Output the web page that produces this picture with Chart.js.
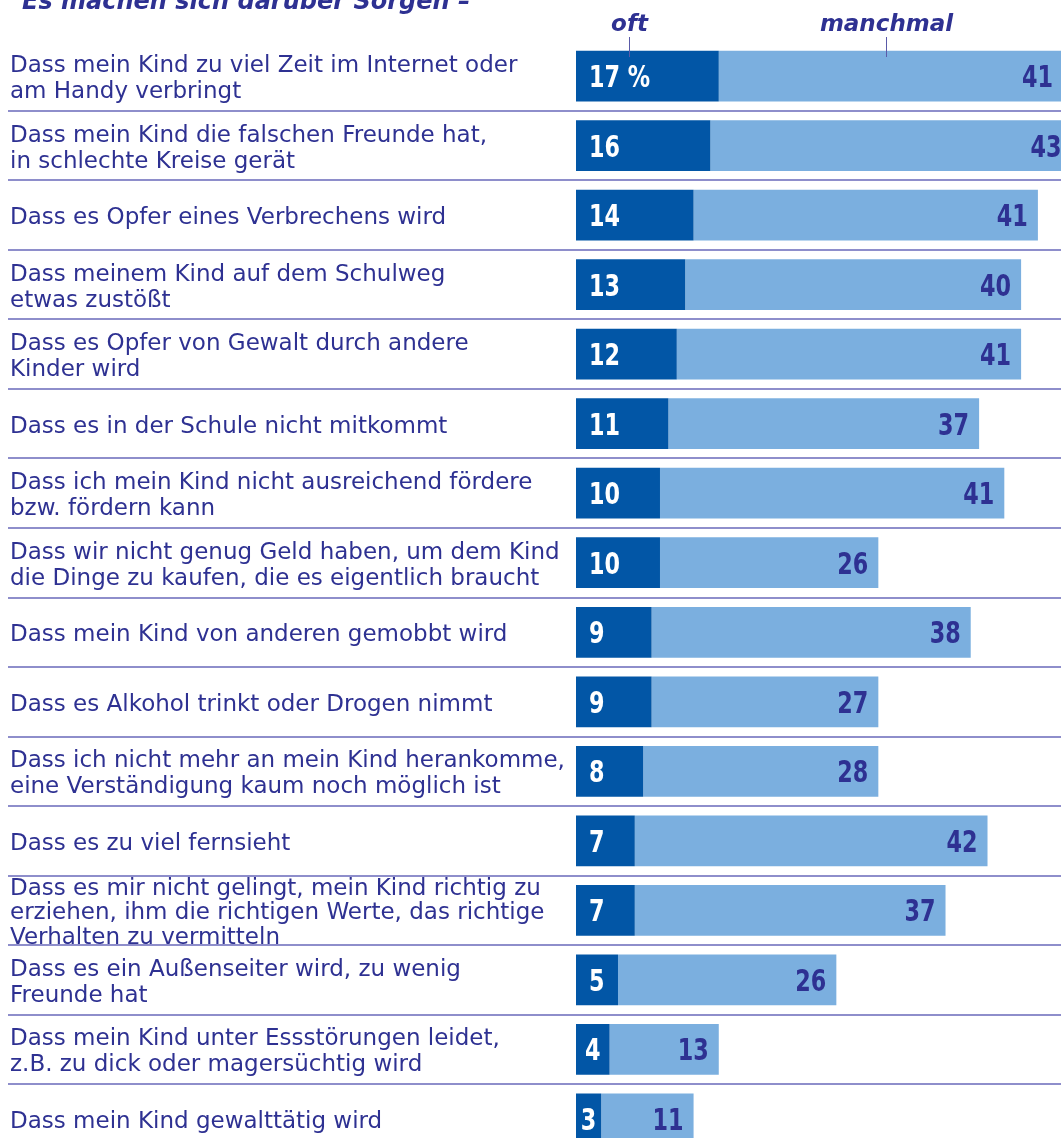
<!DOCTYPE html>
<html lang="de">
<head>
<meta charset="utf-8">
<title>Sorgen der Eltern</title>
<script src="https://cdn.jsdelivr.net/npm/chart.js@4"></script>
<style>
  html, body { margin: 0; padding: 0; background: #fff; overflow: hidden; }
  #chart { display: block; width: 1061px; height: 1160px; }
</style>
</head>
<body>
<canvas id="chart" width="1061" height="1160"></canvas>
<script>
const titleText = 'Es machen sich darüber Sorgen –';
const seriesNames = ['oft', 'manchmal'];

const categories = [
  ['Dass mein Kind zu viel Zeit im Internet oder', 'am Handy verbringt'],
  ['Dass mein Kind die falschen Freunde hat,', 'in schlechte Kreise gerät'],
  'Dass es Opfer eines Verbrechens wird',
  ['Dass meinem Kind auf dem Schulweg', 'etwas zustößt'],
  ['Dass es Opfer von Gewalt durch andere', 'Kinder wird'],
  'Dass es in der Schule nicht mitkommt',
  ['Dass ich mein Kind nicht ausreichend fördere', 'bzw. fördern kann'],
  ['Dass wir nicht genug Geld haben, um dem Kind', 'die Dinge zu kaufen, die es eigentlich braucht'],
  'Dass mein Kind von anderen gemobbt wird',
  'Dass es Alkohol trinkt oder Drogen nimmt',
  ['Dass ich nicht mehr an mein Kind herankomme,', 'eine Verständigung kaum noch möglich ist'],
  'Dass es zu viel fernsieht',
  ['Dass es mir nicht gelingt, mein Kind richtig zu', 'erziehen, ihm die richtigen Werte, das richtige', 'Verhalten zu vermitteln'],
  ['Dass es ein Außenseiter wird, zu wenig', 'Freunde hat'],
  ['Dass mein Kind unter Essstörungen leidet,', 'z.B. zu dick oder magersüchtig wird'],
  'Dass mein Kind gewalttätig wird'
];
const oft      = [17, 16, 14, 13, 12, 11, 10, 10, 9, 9, 8, 7, 7, 5, 4, 3];
const manchmal = [41, 43, 41, 40, 41, 37, 41, 26, 38, 27, 28, 42, 37, 26, 13, 11];

const TEXT = '#2e3192';
const DARK = '#0256a6';
const LIGHT = '#7bafdf';
const RULE = '#8e8ecb';
const NUM_FONT = "bold 31px 'DejaVu Sans', sans-serif";
const NUM_SQUEEZE = 0.72;

// narrow bold numbers: squeeze the glyphs horizontally
function drawNumber(ctx, txt, x, y, align) {
  ctx.save();
  ctx.translate(x, y);
  ctx.scale(NUM_SQUEEZE, 1);
  ctx.textAlign = align;
  ctx.fillText(txt, 0, 0);
  ctx.restore();
}

// title, column heads and the numbers inside the bars
const overlay = {
  id: 'overlay',
  afterDatasetsDraw(chart) {
    const { ctx } = chart;
    const x = chart.scales.x;
    ctx.save();
    ctx.fillStyle = TEXT;
    ctx.font = "italic bold 24px 'DejaVu Sans', sans-serif";
    ctx.textAlign = 'left';
    ctx.textBaseline = 'alphabetic';
    ctx.fillText(titleText, 22, 9);

    // column heads with small pointer lines
    const heads = [[seriesNames[0], 6.3], [seriesNames[1], 36.9]];
    ctx.font = "italic bold 23px 'DejaVu Sans', sans-serif";
    ctx.textAlign = 'center';
    ctx.strokeStyle = '#5a5aa8';
    ctx.lineWidth = 1;
    heads.forEach(([txt, v]) => {
      const px = Math.round(x.getPixelForValue(v)) + 0.5;
      ctx.fillText(txt, px, 31);
      ctx.beginPath();
      ctx.moveTo(px, 37);
      ctx.lineTo(px, 57);
      ctx.stroke();
    });

    ctx.font = NUM_FONT;
    const darkBars = chart.getDatasetMeta(0).data;
    const lightBars = chart.getDatasetMeta(1).data;
    darkBars.forEach((bar, i) => {
      const txt = i === 0 ? oft[i] + ' %' : String(oft[i]);
      const w = ctx.measureText(txt).width * NUM_SQUEEZE;
      const bw = bar.x - bar.base;
      const pad = Math.min(13, (bw - w) / 2);
      ctx.fillStyle = '#ffffff';
      drawNumber(ctx, txt, bar.base + pad, bar.y + 11, 'left');
    });
    lightBars.forEach((bar, i) => {
      ctx.fillStyle = TEXT;
      drawNumber(ctx, String(manchmal[i]), bar.x - 10, bar.y + 11, 'right');
    });
    ctx.restore();
  }
};

new Chart(document.getElementById('chart'), {
  type: 'bar',
  data: {
    labels: categories,
    datasets: [
      { label: seriesNames[0], data: oft, backgroundColor: DARK },
      { label: seriesNames[1], data: manchmal, backgroundColor: LIGHT }
    ]
  },
  options: {
    indexAxis: 'y',
    responsive: false,
    animation: false,
    devicePixelRatio: 1,
    barPercentage: 0.73,
    categoryPercentage: 1,
    // canvas is taller than the window: the last row runs past the bottom edge
    layout: { padding: { left: 10, right: 0, top: 41.25, bottom: 6.25 } },
    plugins: { legend: { display: false }, tooltip: { enabled: false } },
    scales: {
      x: { stacked: true, min: 0, max: 57.75, display: false },
      y: {
        stacked: true,
        border: { display: false },
        grid: {
          offset: true,
          drawOnChartArea: true,
          drawTicks: true,
          tickLength: 568,
          lineWidth: 2,
          color: (c) => c.index === 0 ? 'rgba(0,0,0,0)' : RULE
        },
        ticks: {
          autoSkip: false,
          crossAlign: 'far',
          labelOffset: 3,
          color: TEXT,
          // three-line labels are set a little tighter
          font: (c) => ({
            family: "'DejaVu Sans', sans-serif",
            size: 23,
            lineHeight: Array.isArray(categories[c.index]) && categories[c.index].length > 2 ? 1.05 : 1.13
          })
        },
        afterFit(scale) {
          scale.width = 566;
          scale.paddingTop = 0;
          scale.paddingBottom = 0;
        }
      }
    }
  },
  plugins: [overlay]
});
</script>
</body>
</html>
